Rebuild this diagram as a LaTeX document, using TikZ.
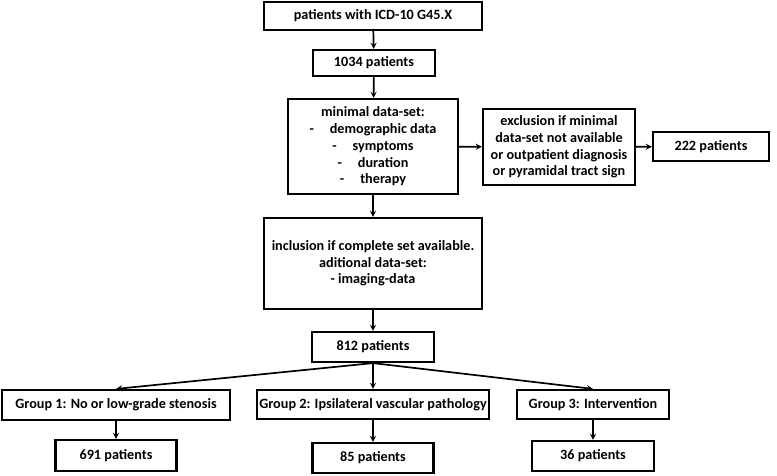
\documentclass[tikz,border=0pt]{standalone}
\usepackage{fontspec}
\setmainfont{Carlito}
\tikzset{box/.style={draw, line width=2.2pt, align=center, inner sep=0pt, font=\bfseries\fontsize{14.2}{16.7}\selectfont}}
\begin{document}
\begin{tikzpicture}[x=1pt, y=-1pt, >=stealth, line width=1.7pt]
\useasboundingbox [fill=white] (0,0) rectangle (777,475);
\node [box, minimum width=218, minimum height=28] (icd) at (373,16) {patients with ICD-10 G45.X};
\node [box, minimum width=122, minimum height=26] (p1034) at (374,63) {1034 patients};
\node [box, minimum width=170, minimum height=95] (minimal) at (373,146.5) {minimal data-set:\\ -\hspace{16pt}demographic data\\ -\hspace{16pt}symptoms\\ -\hspace{16pt}duration\\ -\hspace{16pt}therapy};
\node [box, minimum width=152, minimum height=76] (excl) at (559,147) {exclusion if minimal\\ data-set not available\\ or outpatient diagnosis\\ or pyramidal tract sign};
\node [box, minimum width=116, minimum height=29] (p222) at (711,146.5) {222 patients};
\node [box, minimum width=218, minimum height=91] (incl) at (373,263.5) {inclusion if complete set available.\\ aditional data-set:\\ - imaging-data};
\node [box, minimum width=122, minimum height=30] (p812) at (373,347) {812 patients};
\node [box, minimum width=228, minimum height=30] (grp1) at (116,405) {Group 1: No or low-grade stenosis};
\node [box, minimum width=232, minimum height=29] (grp2) at (373,404.5) {Group 2: Ipsilateral vascular pathology};
\node [box, minimum width=152, minimum height=29] (grp3) at (593,404.5) {Group 3: Intervention};
\node [box, minimum width=121, minimum height=31] (p691) at (116,455.5) {691 patients};
\node [box, minimum width=121, minimum height=30] (p85) at (373,458) {85 patients};
\node [box, minimum width=122, minimum height=30] (p36) at (593,456) {36 patients};
\draw [->] (icd) -- (p1034);
\draw [->] (p1034) -- (minimal);
\draw [->] (minimal) -- (excl);
\draw [->] (excl) -- (p222);
\draw [->] (minimal) -- (incl);
\draw [->] (incl) -- (p812);
\draw [->] (p812.south) -- (grp1.north);
\draw [->] (p812.south) -- (grp2.north);
\draw [->] (p812.south) -- (grp3.north);
\draw [->] (grp1) -- (p691);
\draw [->] (grp2) -- (p85);
\draw [->] (grp3) -- (p36);
\end{tikzpicture}
\end{document}
